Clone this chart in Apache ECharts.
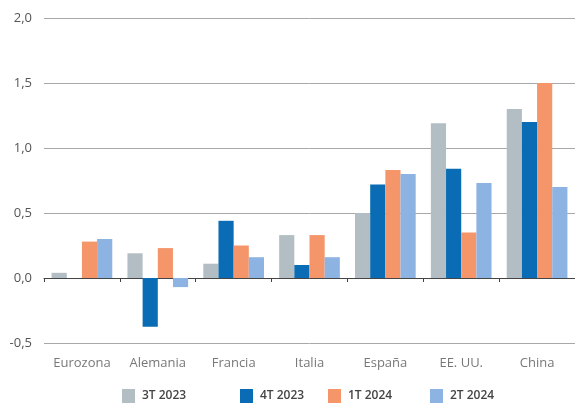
<!DOCTYPE html>
<html>
<head>
<meta charset="utf-8">
<script src="https://cdn.jsdelivr.net/npm/echarts@6/dist/echarts.min.js"></script>
<style>
  html, body { margin: 0; padding: 0; background: #fff; }
  #chart { width: 575px; height: 407px; }
</style>
</head>
<body>
<div id="chart"></div>
<script>
// Quarterly GDP growth by economy (%)
const categories = ['Eurozona', 'Alemania', 'Francia', 'Italia', 'España', 'EE. UU.', 'China'];
const seriesNames = ['3T 2023', '4T 2023', '1T 2024', '2T 2024'];
const q3_2023 = [0.04, 0.19, 0.11, 0.33, 0.50, 1.19, 1.30];
const q4_2023 = [0.00, -0.375, 0.44, 0.10, 0.72, 0.84, 1.20];
const q1_2024 = [0.28, 0.23, 0.25, 0.33, 0.83, 0.35, 1.50];
const q2_2024 = [0.30, -0.07, 0.16, 0.16, 0.80, 0.73, 0.70];
const yTicks = [-0.5, 0, 0.5, 1, 1.5, 2];

const colors = ['#b2bec3', '#0a6cb4', '#f4956a', '#8db3e2'];
const values = [q3_2023, q4_2023, q1_2024, q2_2024];
const legendLefts = [122, 240, 328, 430];
const font = '"Open Sans", "Noto Sans", sans-serif';

const chart = echarts.init(document.getElementById('chart'), null, { renderer: 'canvas' });

chart.setOption({
  animation: false,
  color: colors,
  textStyle: { fontFamily: font },
  grid: { left: 44, top: 18, width: 535, height: 325, containLabel: false },
  legend: seriesNames.map((name, i) => ({
    data: [name],
    left: legendLefts[i],
    top: 389,
    itemWidth: 13,
    itemHeight: 14,
    itemGap: 0,
    icon: 'rect',
    textStyle: { fontSize: 12, color: '#444', fontWeight: 600, fontFamily: font, padding: [0, 0, 0, 2] },
    padding: 0
  })),
  xAxis: {
    type: 'category',
    data: categories,
    axisLine: { onZero: true, lineStyle: { color: '#444', width: 1 } },
    axisTick: { show: true, inside: false, length: 4, lineStyle: { color: '#444' } },
    axisLabel: { show: false },
    splitLine: { show: false }
  },
  yAxis: {
    type: 'value',
    min: yTicks[0],
    max: yTicks[yTicks.length - 1],
    interval: 0.5,
    axisLine: { show: false },
    axisTick: { show: false },
    axisLabel: {
      fontSize: 13,
      color: '#555',
      margin: 12,
      formatter: v => v.toFixed(1).replace('.', ',')
    },
    splitLine: { lineStyle: { color: '#a8a8a8', width: 1 } }
  },
  series: seriesNames.map((name, i) => ({
    name,
    type: 'bar',
    data: values[i],
    barGap: '0%',
    barCategoryGap: '20%',
    itemStyle: { color: colors[i] }
  })).concat([{
    // category names placed along the bottom gridline
    type: 'scatter',
    data: categories.map(c => [c, yTicks[0]]),
    symbolSize: 0,
    silent: true,
    label: {
      show: true,
      position: 'bottom',
      distance: 14,
      formatter: p => p.name || p.value[0],
      fontSize: 13,
      color: '#555',
      fontFamily: font
    }
  }])
});
</script>
</body>
</html>
